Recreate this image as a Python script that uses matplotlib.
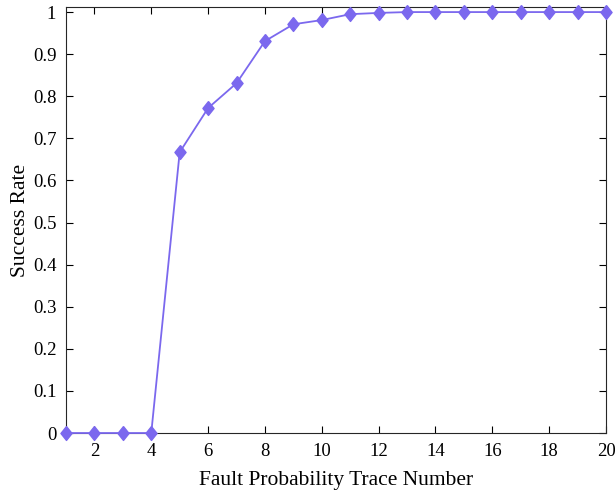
import matplotlib.pyplot as plt
import numpy as np

plt.rcParams['font.family'] = ['Liberation Serif', 'DejaVu Serif']

trace_num = np.arange(1, 21)
success = [0, 0, 0, 0, 0.667, 0.772, 0.831, 0.931, 0.971, 0.981,
           0.995, 0.998, 1.0, 1.0, 1.0, 1.0, 1.0, 1.0, 1.0, 1.0]
xticks = np.arange(2, 21, 2)
yticks = np.round(np.arange(0, 1.01, 0.1), 1)

fig = plt.figure(figsize=(6.15, 4.91), dpi=100)
ax = fig.add_axes([0.1073, 0.1181, 0.8781, 0.8676])

# matlab-style diamond, a bit taller than wide
diamond = [(0, 1), (0.8, 0), (0, -1), (-0.8, 0), (0, 1)]
ax.plot(trace_num, success, color='#7b68ee', marker=diamond, markersize=10,
        linewidth=1.3, clip_on=False, zorder=3)

ax.set_xlim(1, 20)
ax.set_ylim(0, 1.012)
ax.set_xticks(xticks)
ax.set_yticks(yticks)
ax.set_yticklabels(['0'] + [f'{v:g}' for v in yticks[1:]])
ax.tick_params(direction='in', top=True, right=True, labelsize=13.5, length=5, width=0.8)
ax.tick_params(axis='x', pad=7)
ax.tick_params(axis='y', pad=7)
for s in ax.spines.values():
    s.set_linewidth(0.8)
    s.set_color('#262626')

ax.set_xlabel('Fault Probability Trace Number', fontsize=15.5, labelpad=8)
ax.set_ylabel('Success Rate', fontsize=15.5, labelpad=2)

fig.savefig('out.png', dpi=100)
